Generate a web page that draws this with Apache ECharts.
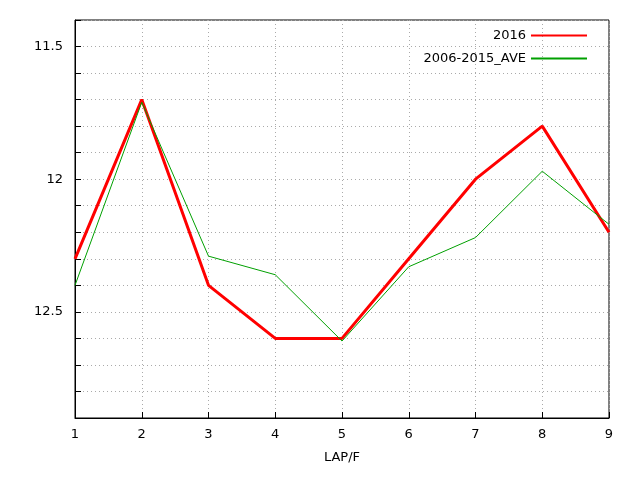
<!DOCTYPE html>
<html><head><meta charset="utf-8">
<script src="https://cdn.jsdelivr.net/npm/echarts@6/dist/echarts.min.js"></script>
<style>html,body{margin:0;padding:0;background:#fff}#c{width:640px;height:480px}</style>
</head><body><div id="c"></div>
<script>
const laps = [1,2,3,4,5,6,7,8,9];
const s2016 = [12.3,11.7,12.4,12.6,12.6,12.3,12.0,11.8,12.2];
const sAve = [12.4,11.71,12.29,12.36,12.61,12.33,12.22,11.97,12.17];
const yLabels = [11.5,12,12.5];
const chart = echarts.init(document.getElementById('c'));
const txt = {color:'#000',fontFamily:'DejaVu Sans',fontSize:13};
chart.setOption({
  animation:false,
  grid:{left:75,right:31,top:20,bottom:62,show:true,borderColor:'#000',borderWidth:1},
  legend:{right:48,top:24,orient:'vertical',align:'right',itemWidth:56,itemHeight:2,itemGap:10,
    textStyle:txt,
    data:[{name:'2016',icon:'rect',itemStyle:{color:'#ff0000'}},
          {name:'2006-2015_AVE',icon:'rect',itemStyle:{color:'#00a000'}}]},
  xAxis:{type:'value',min:1,max:9,interval:1,name:'LAP/F',nameLocation:'middle',nameGap:33,
    nameTextStyle:txt,axisLabel:Object.assign({margin:10},txt),
    axisLine:{lineStyle:{color:'#000'}},axisTick:{inside:true,length:6,lineStyle:{color:'#000'}},
    splitLine:{lineStyle:{color:'#aaa',type:[1,3]}}},
  yAxis:{type:'value',inverse:true,min:11.4,max:12.9,interval:0.1,
    axisLabel:Object.assign({margin:12,formatter:v=>{const r=Math.round(v*10)/10;return yLabels.some(l=>Math.abs(l-r)<1e-6)?String(r):'';}},txt),
    axisLine:{lineStyle:{color:'#000'}},axisTick:{inside:true,length:6,lineStyle:{color:'#000'}},
    splitLine:{lineStyle:{color:'#aaa',type:[1,3]}}},
  series:[
    {name:'2016',type:'line',data:laps.map((x,i)=>[x,s2016[i]]),symbol:'none',
      lineStyle:{color:'#ff0000',width:3},itemStyle:{color:'#ff0000'}},
    {name:'2006-2015_AVE',type:'line',data:laps.map((x,i)=>[x,sAve[i]]),symbol:'none',
      lineStyle:{color:'#00a000',width:1},itemStyle:{color:'#00a000'}}
  ]
});
</script></body></html>
